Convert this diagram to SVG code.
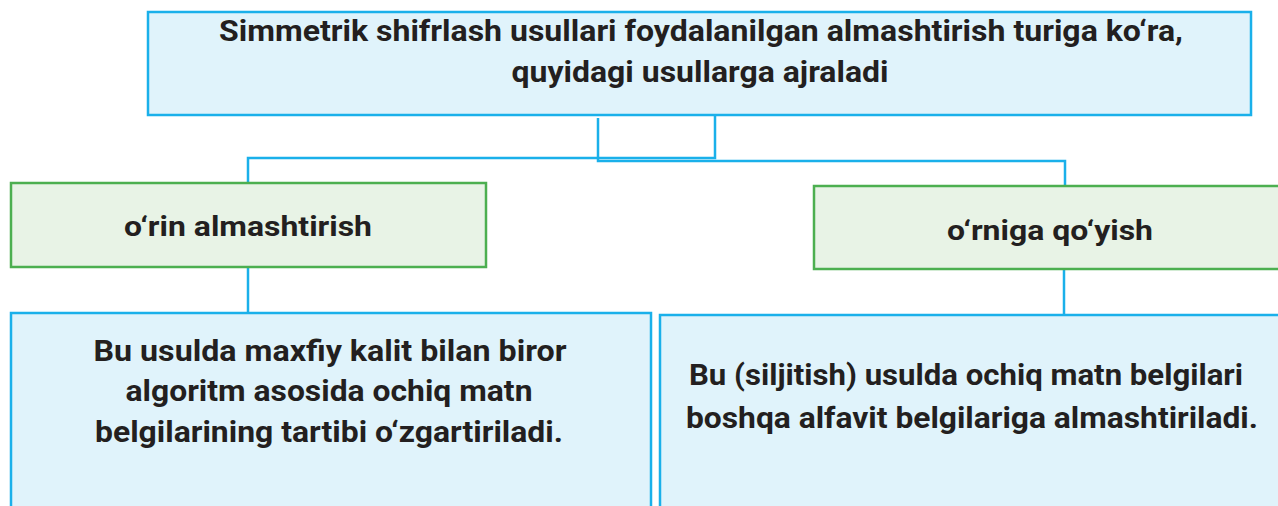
<svg xmlns="http://www.w3.org/2000/svg" width="1278" height="506" viewBox="0 0 1278 506">
<style>
.blue{fill:#e0f3fb;stroke:#1ab0ea;stroke-width:2.5}
.green{fill:#e8f3e6;stroke:#4caf50;stroke-width:2.5}
.t{font-family:Roboto,"Liberation Sans",sans-serif;font-weight:bold;fill:#231f20;text-anchor:middle}
.c{fill:none;stroke:#1ab0ea;stroke-width:2.5}
</style>
<rect width="1278" height="506" fill="#ffffff"/>
<g id="connectors">
<path class="c" d="M248,183 V158 H598"/>
<path class="c" d="M598,118 V161 H1065 V186"/>
<path class="c" d="M715,115 V158 H598"/>
<path class="c" d="M248,267 V313"/>
<path class="c" d="M1064,269 V315"/>
</g>
<g id="top">
<rect class="blue" x="148" y="12" width="1103" height="103"/>
<text class="t" font-size="30" x="701" y="41" textLength="964" lengthAdjust="spacingAndGlyphs">Simmetrik shifrlash usullari foydalanilgan almashtirish turiga ko‘ra,</text>
<text class="t" font-size="30" x="700" y="82" textLength="377" lengthAdjust="spacingAndGlyphs">quyidagi usullarga ajraladi</text>
</g>
<g id="left-method">
<rect class="green" x="11" y="183" width="475" height="84"/>
<text class="t" font-size="27" x="248" y="236" textLength="248" lengthAdjust="spacingAndGlyphs">o‘rin almashtirish</text>
</g>
<g id="right-method">
<rect class="green" x="814" y="186" width="470" height="83"/>
<text class="t" font-size="27" x="1050" y="240" textLength="206" lengthAdjust="spacingAndGlyphs">o‘rniga qo‘yish</text>
</g>
<g id="left-desc">
<rect class="blue" x="11" y="313" width="640" height="200"/>
<text class="t" font-size="29" x="330" y="361" textLength="473" lengthAdjust="spacingAndGlyphs">Bu usulda maxfiy kalit bilan biror</text>
<text class="t" font-size="29" x="329" y="401" textLength="407" lengthAdjust="spacingAndGlyphs">algoritm asosida ochiq matn</text>
<text class="t" font-size="29" x="329" y="442" textLength="468" lengthAdjust="spacingAndGlyphs">belgilarining tartibi o‘zgartiriladi.</text>
</g>
<g id="right-desc">
<rect class="blue" x="660" y="315" width="630" height="200"/>
<text class="t" font-size="29" x="966" y="385" textLength="554" lengthAdjust="spacingAndGlyphs">Bu (siljitish) usulda ochiq matn belgilari</text>
<text class="t" font-size="29" x="972" y="428" textLength="572" lengthAdjust="spacingAndGlyphs">boshqa alfavit belgilariga almashtiriladi.</text>
</g>
</svg>
